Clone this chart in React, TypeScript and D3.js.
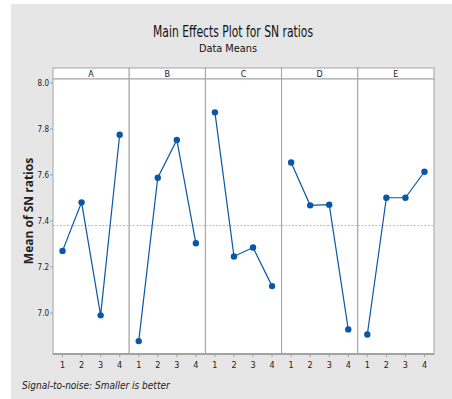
import React from 'react'
import * as d3 from 'd3'

const factors = ['A', 'B', 'C', 'D', 'E']
const levels = [1, 2, 3, 4]
const meansA = [7.27, 7.481, 6.99, 7.775]
const meansB = [6.878, 7.588, 7.752, 7.303]
const meansC = [7.872, 7.246, 7.285, 7.117]
const meansD = [7.654, 7.468, 7.471, 6.929]
const meansE = [6.907, 7.501, 7.501, 7.614]
const yTicks = [7.0, 7.2, 7.4, 7.6, 7.8, 8.0]

const series = [meansA, meansB, meansC, meansD, meansE]
const FONT = '"Liberation Sans Narrow", "DejaVu Sans Condensed", "Open Sans", sans-serif'

export default function App() {
  const W = 452, H = 399
  const left = 53, right = 434, stripTop = 68, top = 79, bottom = 354
  const pw = (right - left) / factors.length
  const y = d3.scaleLinear().domain([6.822, 8.017]).range([bottom, top])
  const grand = d3.mean(series.flat()) as number
  const blue = '#0a57a8'
  const border = '#a3a3a3'

  return (
    <svg width={W} height={H} style={{ position: 'absolute', left: 0, top: 0 }} fontFamily={FONT}>
      <rect x={0} y={0} width={W} height={H} fill="#fff" />
      <rect x={11} y={4} width={W - 11} height={H - 4} fill="#e6e6e6" />
      <text x={233} y={37} textAnchor="middle" fontSize={15} fill="#111" textLength={160} lengthAdjust="spacingAndGlyphs">Main Effects Plot for SN ratios</text>
      <text x={228} y={52} textAnchor="middle" fontSize={11} fill="#111" textLength={58} lengthAdjust="spacingAndGlyphs">Data Means</text>

      {factors.map((f, i) => {
        const x0 = left + i * pw
        const x = d3.scaleLinear().domain([0.5, 4.5]).range([x0, x0 + pw])
        const line = d3.line<number>().x((_, j) => x(levels[j])).y(d => y(d))
        return (
          <g key={f}>
            <rect x={x0} y={stripTop} width={pw} height={top - stripTop} fill="#fff" stroke={border} strokeWidth={1} />
            <text x={x0 + pw / 2} y={top - 2.5} textAnchor="middle" fontSize={9} fill="#222">{f}</text>
            <rect x={x0} y={top} width={pw} height={bottom - top} fill="#fff" stroke={border} strokeWidth={1} />
            <line x1={x0} x2={x0 + pw} y1={y(grand)} y2={y(grand)} stroke="#b8b8b8" strokeDasharray="2,1.5" strokeWidth={1} />
            <path d={line(series[i]) || ''} fill="none" stroke={blue} strokeWidth={1.2} />
            {series[i].map((v, j) => (
              <circle key={j} cx={x(levels[j])} cy={y(v)} r={3.2} fill={blue} />
            ))}
            {levels.map(l => (
              <g key={l}>
                <line x1={x(l)} x2={x(l)} y1={bottom} y2={bottom + 3} stroke={border} />
                <text x={x(l)} y={368} textAnchor="middle" fontSize={9} fill="#222">{l}</text>
              </g>
            ))}
          </g>
        )
      })}
      <line x1={left} x2={right} y1={bottom} y2={bottom} stroke={border} strokeWidth={2} />

      {yTicks.map(t => (
        <g key={t}>
          <line x1={left - 3} x2={left} y1={y(t)} y2={y(t)} stroke={border} />
          <text x={left - 4} y={y(t) + 3} textAnchor="end" fontSize={8} fill="#222">{t.toFixed(1)}</text>
        </g>
      ))}

      <text transform={`translate(33,${(stripTop + bottom) / 2}) rotate(-90)`} textAnchor="middle" fontSize={12} fontWeight="bold" fill="#222" fontFamily='"Open Sans", sans-serif'>Mean of SN ratios</text>
      <text x={22} y={389} fontSize={10} fontStyle="italic" fill="#222">Signal-to-noise: Smaller is better</text>
    </svg>
  )
}
